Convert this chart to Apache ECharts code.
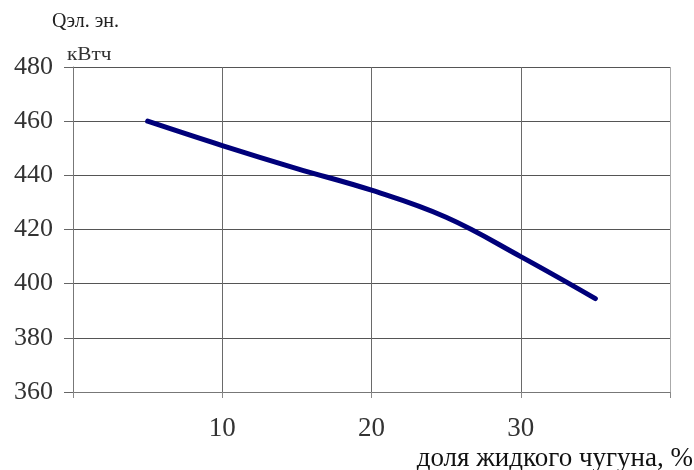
<!DOCTYPE html>
<html>
<head>
<meta charset="utf-8">
<script src="https://cdn.jsdelivr.net/npm/echarts@6/dist/echarts.min.js"></script>
<style>
  html, body { margin: 0; padding: 0; background: #fff; }
  #chart { width: 694px; height: 470px; }
</style>
</head>
<body>
<div id="chart"></div>
<script>
// доля жидкого чугуна, % -> расход электроэнергии, кВтч
var shareX = [5, 10, 15, 20, 25, 30, 35];
var energyY = [460, 451, 442.5, 434.5, 424.5, 410, 394.5];
var xTicks = [10, 20, 30];

var serif = '"Liberation Serif", "DejaVu Serif", serif';
var myChart = echarts.init(document.getElementById('chart'));

var points = [];
for (var i = 0; i < shareX.length; i++) {
    points.push([shareX[i], energyY[i]]);
}

var option = {
    backgroundColor: '#fff',
    animation: false,
    grid: {
        left: 73,
        right: 24,
        top: 67,
        bottom: 78
    },
    xAxis: {
        type: 'value',
        min: 0,
        max: 40,
        interval: 10,
        axisLine: { show: true, onZero: false, lineStyle: { color: '#777', width: 1 } },
        axisTick: { show: true, length: 6, lineStyle: { color: '#888' } },
        splitLine: {
            show: true,
            lineStyle: {
                // последняя линия (правая рамка) светлее
                color: ['#6a6a6a', '#6a6a6a', '#6a6a6a', '#6a6a6a', '#aaa'],
                width: 1
            }
        },
        axisLabel: {
            margin: 23,
            fontFamily: serif,
            fontSize: 27,
            color: '#333',
            formatter: function (v) {
                return xTicks.indexOf(v) >= 0 ? String(v) : '';
            }
        }
    },
    yAxis: {
        type: 'value',
        min: 360,
        max: 480,
        interval: 20,
        axisLine: { show: true, lineStyle: { color: '#777', width: 1 } },
        axisTick: { show: true, length: 9, lineStyle: { color: '#666' } },
        splitLine: { show: true, lineStyle: { color: '#555', width: 1 } },
        axisLabel: {
            margin: 20,
            fontFamily: serif,
            fontSize: 26,
            color: '#333'
        }
    },
    graphic: [
        {
            type: 'text',
            left: 52, top: 12,
            style: { text: 'Qэл. эн.', font: '20px ' + serif, fill: '#222' }
        },
        {
            type: 'text',
            left: 67, top: 46,
            scaleX: 1.12,
            style: { text: 'кВтч', font: '19px ' + serif, fill: '#333' }
        },
        {
            type: 'text',
            right: 1, top: 445,
            style: { text: 'доля жидкого чугуна, %', font: '27px ' + serif, fill: '#111' }
        }
    ],
    series: [{
        type: 'line',
        data: points,
        smooth: 0.4,
        symbol: 'none',
        lineStyle: { color: '#00007a', width: 5, cap: 'round' }
    }]
};
myChart.setOption(option);
</script>
</body>
</html>
